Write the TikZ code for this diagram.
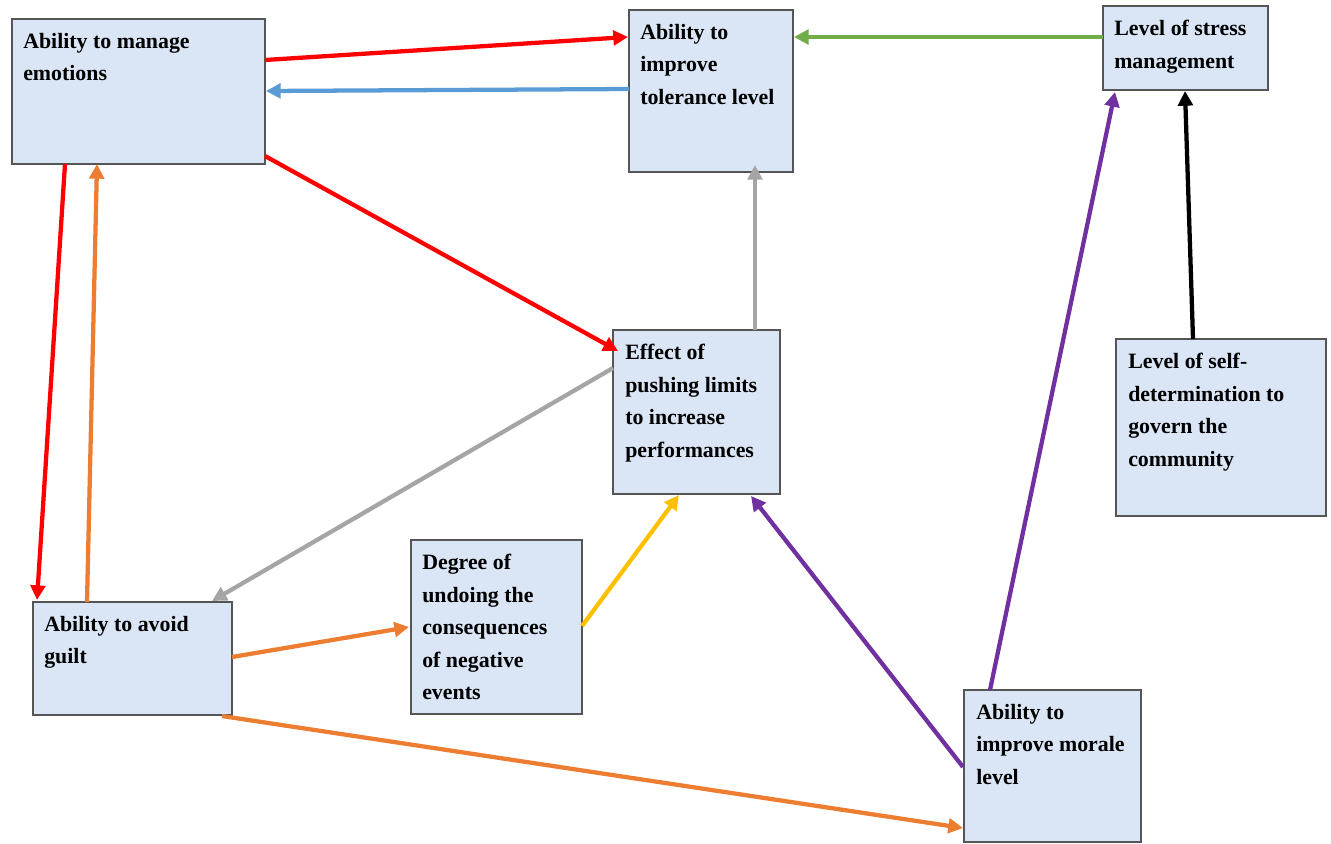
\documentclass[tikz,border=0pt]{standalone}
\usepackage{fontspec}
\setmainfont{Liberation Serif}
\usetikzlibrary{arrows.meta,calc}

\definecolor{boxfill}{RGB}{218,229,245}
\definecolor{boxline}{RGB}{85,85,85}
\definecolor{cRed}{RGB}{255,0,0}
\definecolor{cBlue}{RGB}{91,155,213}
\definecolor{cGreen}{RGB}{112,173,71}
\definecolor{cGray}{RGB}{165,165,165}
\definecolor{cOrange}{RGB}{237,125,49}
\definecolor{cYellow}{RGB}{255,192,0}
\definecolor{cPurple}{RGB}{112,48,160}

\tikzset{
  box/.style={rectangle, draw=boxline, line width=0.9pt, fill=boxfill,
    anchor=north west, inner sep=0pt, outer sep=0pt},
  boxtext/.style={anchor=north west, inner sep=0pt, align=left,
    font=\fontsize{16.4}{24.4}\selectfont\bfseries},
  link/.style={line width=3.2pt, -{Triangle[length=11pt,width=11pt]}},
}

\begin{document}
\begin{tikzpicture}[x=0.75pt, y=-0.75pt]
\useasboundingbox (0,0) rectangle (1331,843);

% boxes
\node[box, minimum width=189.75pt, minimum height=108.75pt] (em) at (12,19) {};
\node[box, minimum width=123pt, minimum height=121.5pt] (tol) at (629,10) {};
\node[box, minimum width=123.75pt, minimum height=63pt] (str) at (1103,6) {};
\node[box, minimum width=125.25pt, minimum height=123pt] (eff) at (613,330) {};
\node[box, minimum width=157.5pt, minimum height=132.75pt] (self) at (1116,339) {};
\node[box, minimum width=149.25pt, minimum height=84.75pt] (guilt) at (33,602) {};
\node[box, minimum width=128.25pt, minimum height=130.5pt] (deg) at (411,540) {};
\node[box, minimum width=132.75pt, minimum height=114pt] (mor) at (964,690) {};

% box captions
\node[boxtext] (emT) at ($(em.north west)+(11,14)$) {Ability to manage\\emotions};
\node[boxtext] (tolT) at ($(tol.north west)+(11,14)$) {Ability to\\improve\\tolerance level};
\node[boxtext] (strT) at ($(str.north west)+(11,14)$) {Level of stress\\management};
\node[boxtext] (effT) at ($(eff.north west)+(12,14)$) {Effect of\\pushing limits\\to increase\\performances};
\node[boxtext] (selfT) at ($(self.north west)+(12,14)$) {Level of self-\\determination to\\govern the\\community};
\node[boxtext] (guiltT) at ($(guilt.north west)+(11,14)$) {Ability to avoid\\guilt};
\node[boxtext] (degT) at ($(deg.north west)+(11,14)$) {Degree of\\undoing the\\consequences\\of negative\\events};
\node[boxtext] (morT) at ($(mor.north west)+(12,14)$) {Ability to\\improve morale\\level};

% connectors
\draw[link, cRed] ($(em.north west)+(253,41)$) -- ($(tol.north west)+(-1,27)$);
\draw[link, cBlue] ($(tol.north west)+(0,79)$) -- ($(em.north west)+(254,72)$);
\draw[link, cGreen] ($(str.north west)+(0,31)$) -- ($(tol.north west)+(165,27)$);
\draw[link, cRed] ($(em.north west)+(253,137)$) -- ($(eff.north west)+(5,21)$);
\draw[link, cRed] ($(em.north west)+(53,145)$) -- ($(guilt.north west)+(4,-2)$);
\draw[link, cOrange] ($(guilt.north west)+(54,0)$) -- ($(em.north west)+(85,145)$);
\draw[link, cGray] ($(eff.north west)+(0,38)$) -- ($(guilt.north west)+(179,-1)$);
\draw[link, cGray] ($(eff.north west)+(142,0)$) -- ($(tol.north west)+(126,155)$);
\draw[link, black] ($(self.north west)+(77,0)$) -- ($(str.north west)+(82,85)$);
\draw[link, cPurple] ($(mor.north west)+(26,0)$) -- ($(str.north west)+(12,86)$);
\draw[link, cPurple] ($(mor.north west)+(-1,77)$) -- ($(eff.north west)+(138,166)$);
\draw[link, cYellow] ($(deg.north west)+(171,86)$) -- ($(eff.north west)+(66,165)$);
\draw[link, cOrange] ($(guilt.north west)+(199,55)$) -- ($(deg.north west)+(-2,87)$);
\draw[link, cOrange] ($(guilt.north west)+(189,114)$) -- ($(mor.north west)+(-1,138)$);
\end{tikzpicture}
\end{document}
